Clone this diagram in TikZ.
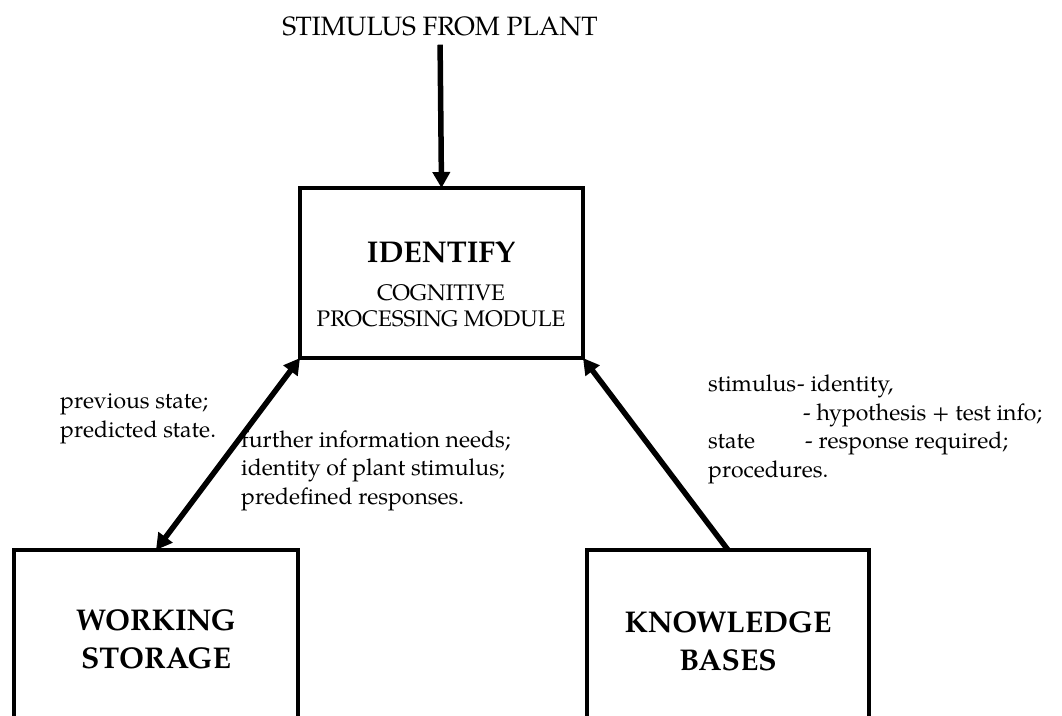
\documentclass[tikz,border=0pt]{standalone}
\usepackage{fontspec}
\setmainfont{TeX Gyre Pagella}
\usetikzlibrary{arrows.meta}
\begin{document}
\begin{tikzpicture}[x=1pt,y=-1pt,
  box/.style={draw, line width=4pt, inner sep=0pt, outer sep=0pt},
  tip/.tip={Triangle[length=16pt,width=17pt]},
  arr/.style={line width=5.5pt, -tip},
  darr/.style={line width=5.5pt, tip-tip},
  big/.style={font=\fontsize{30}{38}\selectfont\bfseries, align=center, inner sep=0pt},
  mid/.style={font=\fontsize{22.5}{26}\selectfont, align=center, inner sep=0pt},
  lbl/.style={font=\fontsize{23}{28.5}\selectfont, align=left, inner sep=0pt, anchor=base west}]
\useasboundingbox (0,0) rectangle (1062,715);
\clip (0,0) rectangle (1062,715);
\fill[white] (0,0) rectangle (1062,715);
% top stimulus
\node[font=\fontsize{26.5}{32}\selectfont, inner sep=0pt, anchor=base] (stim) at (440,35) {STIMULUS FROM PLANT};
% identify box
\node[box, minimum width=283pt, minimum height=170pt] (ident) at (441.5,273) {};
\node[big, anchor=base] (identt) at (441,262) {IDENTIFY};
\node[mid, anchor=base] (cpm) at (441,326) {COGNITIVE\\PROCESSING MODULE};
% bottom boxes (open at the bottom edge)
\node[box, minimum width=284pt, minimum height=300pt, anchor=north] (ws) at (156,550) {};
\node[big, anchor=base] (wst) at (156,668) {WORKING\\STORAGE};
\node[box, minimum width=282pt, minimum height=300pt, anchor=north] (kb) at (728,550) {};
\node[big, anchor=base] (kbt) at (728,670) {KNOWLEDGE\\BASES};
% connectors
\draw[arr, shorten <=9pt] (stim.south) -- (ident.north);
\draw[darr] (ws.north) -- (ident.south west);
\draw[arr] (kb.north) -- (ident.south east);
% labels
\node[lbl] (l1) at (60,437) {previous state;\\predicted state.};
\node[lbl] (l2) at (241,504) {further information needs;\\identity of plant stimulus;\\predefined responses.};
\node[lbl] (l3) at (708,477) {\makebox[89pt][l]{stimulus}- identity,\\\hspace{95pt}- hypothesis + test info;\\\makebox[97pt][l]{state}- response required;\\procedures.};
\end{tikzpicture}
\end{document}
